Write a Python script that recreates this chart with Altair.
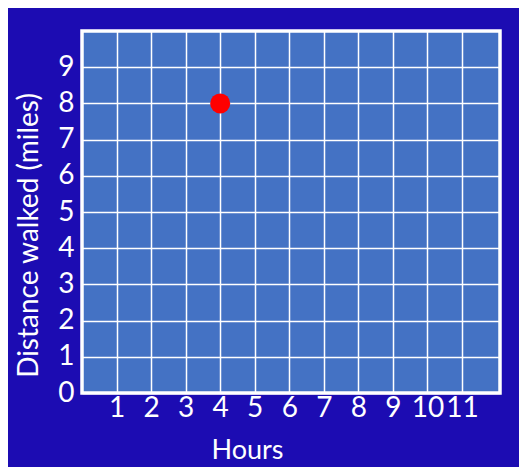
import altair as alt
import pandas as pd

hours = [4]
distance = [8]
x_ticks = [1, 2, 3, 4, 5, 6, 7, 8, 9, 10, 11]
y_ticks = [0, 1, 2, 3, 4, 5, 6, 7, 8, 9]

BG = "#1c0cb2"
PLOT = "#4472c4"
FONT = "Lato"

df = pd.DataFrame({"Hours": hours, "Distance": distance})

chart = alt.Chart(df).mark_circle(color="#ff0000", opacity=1, size=400).encode(
    x=alt.X("Hours:Q",
            scale=alt.Scale(domain=[0, 12.1], nice=False, zero=False),
            axis=alt.Axis(values=x_ticks, title="Hours", grid=True, ticks=False, tickSize=0,
                          domain=False, labelPadding=1, labelFontSize=28,
                          labelColor="white", labelFont=FONT, labelFlush=False,
                          titleFontSize=27, titleColor="white", titleFont=FONT,
                          titleFontWeight="normal", titleX=165, titleY=65,
                          titleBaseline="alphabetic", titleAlign="center")),
    y=alt.Y("Distance:Q",
            scale=alt.Scale(domain=[0, 10], nice=False, zero=False),
            axis=alt.Axis(values=y_ticks, title="Distance walked (miles)", grid=True,
                          ticks=False, tickSize=0, domain=False, labelPadding=8,
                          labelFontSize=28, labelColor="white", labelFont=FONT,
                          labelFlush=False,
                          titleFontSize=28, titleColor="white", titleFont=FONT,
                          titleFontWeight="normal", titleX=-45, titleY=204,
                          titleAngle=-90, titleBaseline="alphabetic",
                          titleAlign="center")),
).properties(
    width=418, height=362,
    background=BG,
    padding={"left": 74, "top": 23, "right": 19, "bottom": 74},
    autosize=alt.AutoSizeParams(type="none"),
).configure_view(
    fill=PLOT, stroke="white", strokeWidth=3.5
).configure_axis(
    gridColor="white", gridWidth=1.5, gridOpacity=1
)

chart.save("out.html", embed_options={"renderer": "svg", "actions": False})
